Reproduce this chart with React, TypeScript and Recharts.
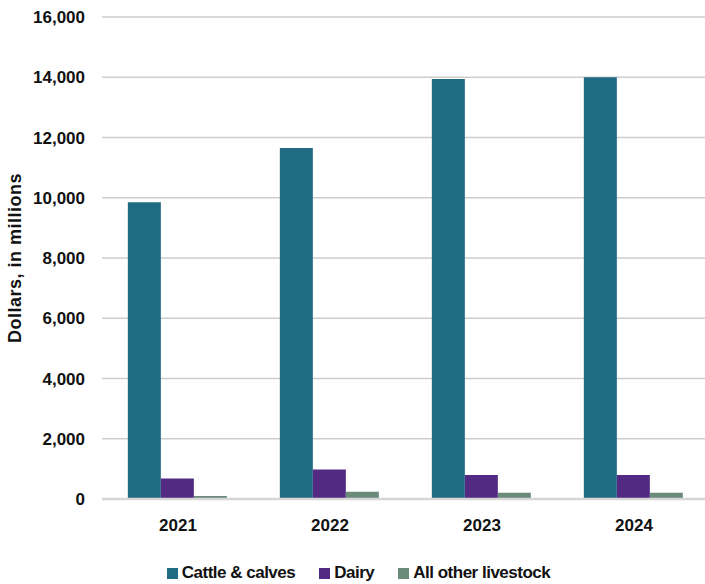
import React from 'react';
import { BarChart, Bar, XAxis, YAxis, CartesianGrid, Legend } from 'recharts';

const years = ['2021', '2022', '2023', '2024'];
const cattle = [9850, 11650, 13940, 14000];
const dairy = [680, 980, 800, 800];
const otherLivestock = [100, 240, 210, 210];
const yTicks = [0, 2000, 4000, 6000, 8000, 10000, 12000, 14000, 16000];

const SERIES = [
  { key: 'cattle', name: 'Cattle & calves', color: '#1f6b84' },
  { key: 'dairy', name: 'Dairy', color: '#522a84' },
  { key: 'other', name: 'All other livestock', color: '#6a8a7a' },
];

const FONT = '"Liberation Sans", Arial, sans-serif';

const data = years.map((year, i) => ({
  year,
  cattle: cattle[i],
  dairy: dairy[i],
  other: otherLivestock[i],
}));

const LegendContent = () => (
  <div
    style={{
      display: 'flex',
      justifyContent: 'center',
      paddingTop: 19,
      paddingLeft: 7,
      lineHeight: '20px',
      fontFamily: FONT,
      fontWeight: 700,
      fontSize: 17,
      letterSpacing: -0.5,
      color: '#111',
    }}
  >
    {SERIES.map((s, i) => (
      <div key={s.key} style={{ display: 'flex', alignItems: 'center', marginLeft: i === 0 ? 0 : 24 }}>
        <span style={{ width: 11, height: 11, background: s.color, display: 'inline-block', marginRight: 4 }} />
        <span>{s.name}</span>
      </div>
    ))}
  </div>
);

export default function App() {
  return (
    <div style={{ position: 'absolute', left: 0, top: 0, width: 705, height: 584, overflow: 'hidden', background: '#fff' }}>
      <BarChart
        width={710}
        height={584}
        data={data}
        margin={{ top: 17, right: 0, left: 0, bottom: 0 }}
        barCategoryGap="17%"
        barGap={0}
      >
        <CartesianGrid vertical={false} stroke="#cdcdcd" strokeWidth={1.5} />
        <XAxis
          dataKey="year"
          height={45}
          axisLine={{ stroke: '#d6d6d6', strokeWidth: 2.5 }}
          tickLine={false}
          tick={{ fill: '#111', fontFamily: FONT, fontWeight: 700, fontSize: 17 }}
          tickMargin={14}
        />
        <YAxis
          width={102}
          domain={[0, 16000]}
          ticks={yTicks}
          interval={0}
          axisLine={false}
          tickLine={false}
          tickMargin={11}
          tickFormatter={(v: number) => v.toLocaleString('en-US')}
          tick={{ fill: '#111', fontFamily: FONT, fontWeight: 700, fontSize: 17 }}
          label={{
            value: 'Dollars, in millions',
            angle: -90,
            position: 'insideLeft',
            dx: 10,
            dy: 0,
            style: { textAnchor: 'middle', fill: '#111', fontFamily: FONT, fontWeight: 700, fontSize: 18, letterSpacing: 0.5 },
          }}
        />
        <Legend verticalAlign="bottom" height={40} content={<LegendContent />} />
        {SERIES.map((s) => (
          <Bar key={s.key} dataKey={s.key} name={s.name} fill={s.color} isAnimationActive={false} />
        ))}
      </BarChart>
    </div>
  );
}
